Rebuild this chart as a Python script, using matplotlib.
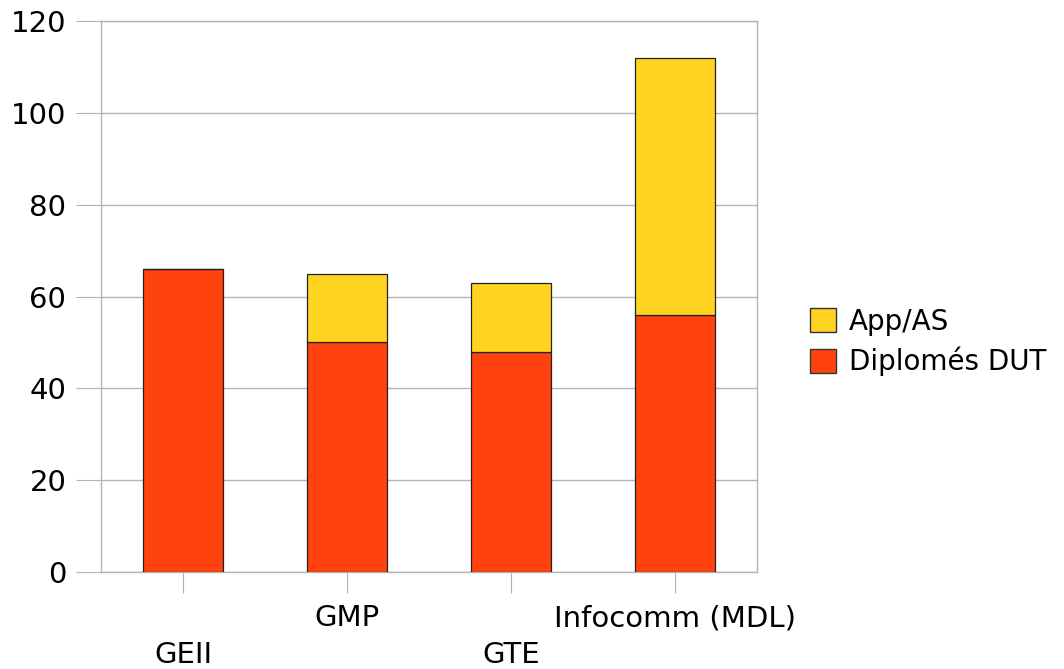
import numpy as np
import matplotlib.pyplot as plt
from matplotlib.patches import Patch

# data
categories = ["GEII", "GMP", "GTE", "Infocomm (MDL)"]
diplomes_dut = [66, 50, 48, 56]
app_as = [0, 15, 15, 56]

red = "#FF420E"
yellow = "#FFD320"
grid = "#b3b3b3"

fig = plt.figure(figsize=(10.64, 6.69), dpi=100)
ax = fig.add_axes([0.0949, 0.145, 0.6166, 0.8236])

x = np.arange(len(categories))
ax.bar(x, diplomes_dut, width=0.49, color=red, edgecolor="#222222",
       linewidth=0.9, zorder=3)
ax.bar(x, app_as, width=0.49, bottom=diplomes_dut, color=yellow,
       edgecolor="#222222", linewidth=0.9, zorder=3)

ax.set_xlim(-0.5, len(categories) - 0.5)
ax.set_ylim(0, 120)
ax.set_yticks(range(0, 121, 20))
ax.tick_params(axis="y", length=18, color=grid, labelsize=21, pad=7)
ax.yaxis.grid(True, color=grid, linewidth=1, zorder=0)

ax.set_xticks(x)
ax.set_xticklabels([])
ax.tick_params(axis="x", length=15, color=grid)
for i, name in enumerate(categories):
    y = -0.0835 if i % 2 == 1 else -0.151
    ax.text(i, y, name, transform=ax.get_xaxis_transform(),
            ha="center", va="center", fontsize=21)

for s in ax.spines.values():
    s.set_color(grid)
    s.set_linewidth(1)

handles = [Patch(facecolor=yellow, edgecolor="#333333", label="App/AS"),
           Patch(facecolor=red, edgecolor="#333333", label="Diplomés DUT")]
fig.legend(handles=handles, loc="center left", bbox_to_anchor=(0.761, 0.489),
           frameon=False, fontsize=20, handlelength=0.95, handleheight=0.95,
           handletextpad=0.45, labelspacing=0.4, borderaxespad=0,
           borderpad=0)

fig.savefig("out.png", dpi=100)
